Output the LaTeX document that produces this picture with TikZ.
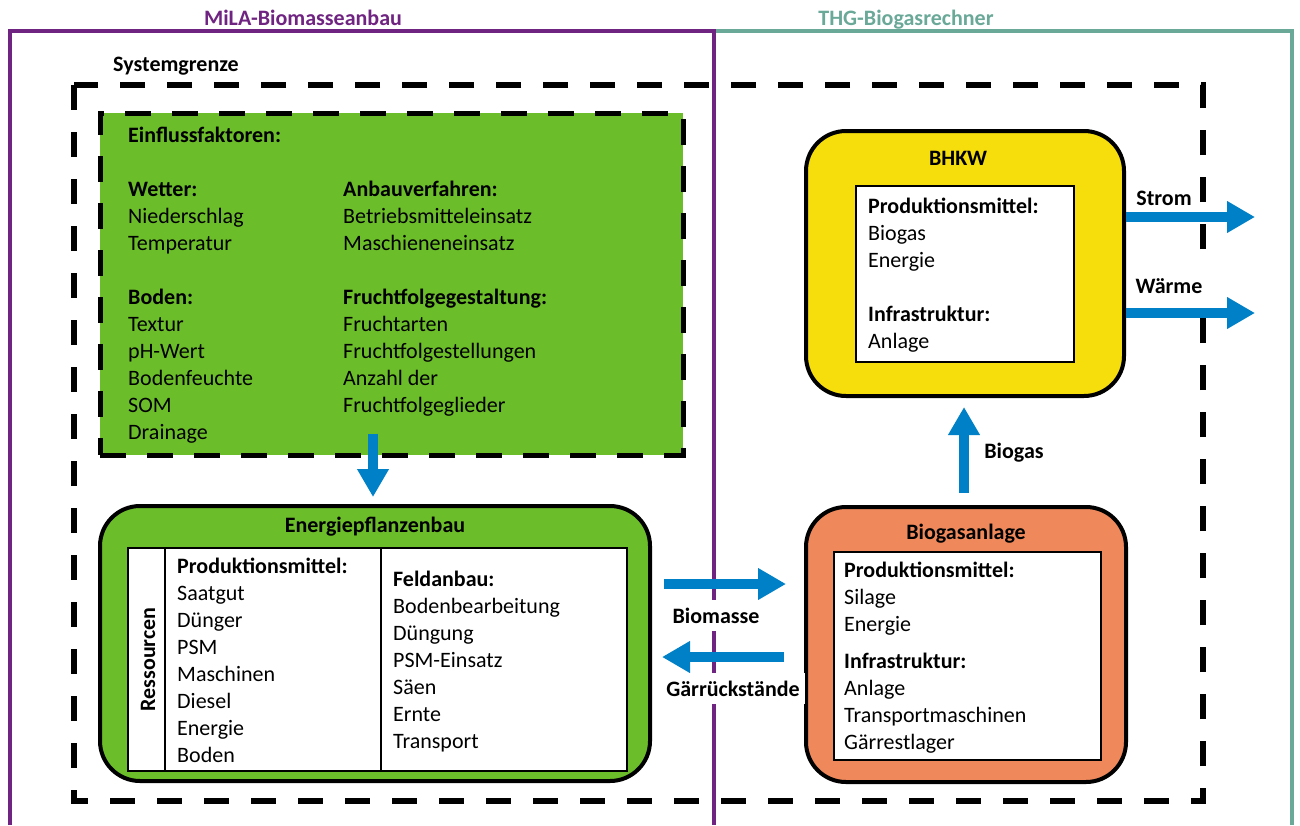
\documentclass[tikz,border=0pt]{standalone}
\usepackage{fontspec}
\setmainfont{Carlito}
\usetikzlibrary{positioning,arrows.meta,calc}
\definecolor{milapurple}{RGB}{112,36,130}
\definecolor{thgteal}{RGB}{106,168,152}
\definecolor{fieldgreen}{RGB}{108,189,42}
\definecolor{bgaorange}{RGB}{239,137,92}
\definecolor{bhkwyellow}{RGB}{246,222,12}
\definecolor{flowblue}{RGB}{0,128,198}
\tikzset{
    mila frame/.style={draw=milapurple, line width=4pt},
    thg frame/.style={draw=thgteal, line width=4pt},
    frame label/.style={font=\fontsize{22}{27}\selectfont\bfseries, anchor=base, inner sep=0pt},
    system border/.style={draw=black, line width=6pt, dash pattern=on 25pt off 22pt},
    factor box/.style={rectangle, draw=black, fill=fieldgreen, line width=5pt, dash pattern=on 26pt off 21pt},
    unit box/.style={rectangle, draw=black, line width=4pt, rounded corners=40pt},
    inner box/.style={rectangle, draw=black, fill=white, line width=2.5pt},
    divider/.style={draw=black, line width=2.5pt},
    unit title/.style={font=\fontsize{22}{27}\selectfont\bfseries, anchor=base, inner sep=0pt},
    item list/.style={font=\fontsize{22}{27}\selectfont, anchor=base west, align=left, inner sep=0pt},
    flow arrow/.style={-{Triangle[width=30pt,length=28pt]}, line width=10pt, flowblue},
    flow label/.style={font=\fontsize{22}{27}\selectfont\bfseries, anchor=base, fill=white, inner xsep=5pt, inner ysep=8pt}
}

\begin{document}
\begin{tikzpicture}[x=1pt, y=-1pt]
    \useasboundingbox (0,0) rectangle (1300,825);

    % Model frames
    \draw[thg frame] (714,31) -- (1292,31) -- (1292,825);
    \draw[mila frame] (10,825) -- (10,31) -- (714,31) -- (714,825);
    \node[frame label, text=milapurple] (mila-label) at (303,25) {MiLA-Biomasseanbau};
    \node[frame label, text=thgteal] (thg-label) at (906,25) {THG-Biogasrechner};

    % System boundary
    \draw[system border] (74,85) rectangle (1203,801);
    \node[frame label] (system-label) at (176,71) {Systemgrenze};

    % Influencing factors (lists sit on the baseline of their last line)
    \node[factor box, minimum width=583pt, minimum height=342pt] (einfluss) at (391.5,284) {};
    \node[item list] (einfluss-left) at (128,439) {\textbf{Einflussfaktoren:}\\[27pt]\textbf{Wetter:}\\Niederschlag\\Temperatur\\[27pt]\textbf{Boden:}\\Textur\\pH-Wert\\Bodenfeuchte\\SOM\\Drainage};
    \node[item list] (einfluss-right) at (343,412) {\textbf{Anbauverfahren:}\\Betriebsmitteleinsatz\\Maschieneneinsatz\\[27pt]\textbf{Fruchtfolgegestaltung:}\\Fruchtarten\\Fruchtfolgestellungen\\Anzahl der\\Fruchtfolgeglieder};

    % Energy crop cultivation
    \node[unit box, fill=fieldgreen, minimum width=550pt, minimum height=275pt] (epb) at (375,643.5) {};
    \node[unit title] (epb-title) at (375,532) {Energiepflanzenbau};
    \node[inner box, minimum width=499pt, minimum height=223pt] (epb-table) at (377.5,659.5) {};
    \draw[divider] (165,548) -- (165,771);
    \draw[divider] (381,548) -- (381,771);
    \node[unit title, anchor=center, rotate=90] (ressourcen) at (148,659.5) {Ressourcen};
    \node[item list] (epb-mittel) at (177,762) {\textbf{Produktionsmittel:}\\Saatgut\\Dünger\\PSM\\Maschinen\\Diesel\\Energie\\Boden};
    \node[item list] (epb-feld) at (393,748) {\textbf{Feldanbau:}\\Bodenbearbeitung\\Düngung\\PSM-Einsatz\\Säen\\Ernte\\Transport};

    % Biogas plant
    \node[unit box, fill=bgaorange, minimum width=320pt, minimum height=275pt] (bga) at (966,644.5) {};
    \node[unit title] (bga-title) at (966,539) {Biogasanlage};
    \node[inner box, minimum width=267pt, minimum height=208pt] (bga-inner) at (967.5,656) {};
    \node[item list] (bga-list) at (844,749) {\textbf{Produktionsmittel:}\\Silage\\Energie\\[10pt]\textbf{Infrastruktur:}\\Anlage\\Transportmaschinen\\Gärrestlager};

    % CHP unit
    \node[unit box, fill=bhkwyellow, minimum width=318pt, minimum height=265pt] (bhkw) at (965,263.5) {};
    \node[unit title] (bhkw-title) at (958,165) {BHKW};
    \node[inner box, minimum width=218pt, minimum height=176pt] (bhkw-inner) at (965,274) {};
    \node[item list] (bhkw-list) at (868,348) {\textbf{Produktionsmittel:}\\Biogas\\Energie\\[27pt]\textbf{Infrastruktur:}\\Anlage};

    % Flow labels
    \node[flow label] (biomasse-label) at (716,623) {Biomasse};
    \node[flow label] (gaerrest-label) at (733,696) {Gärrückstände};
    \node[flow label] (biogas-label) at (1014,458) {Biogas};
    \node[flow label] (strom-label) at (1164,205) {Strom};
    \node[flow label] (waerme-label) at (1169,293) {Wärme};

    % Flows
    \coordinate (strom-end) at (1255,217);
    \coordinate (waerme-end) at (1255,313);
    \draw[flow arrow, shorten <=-24pt, shorten >=7pt] ([xshift=-2pt]epb.north |- einfluss.south) -- ([xshift=-2pt]epb.north);
    \draw[flow arrow, shorten <=12pt, shorten >=18pt] ([yshift=59.5pt]epb.east) -- ([yshift=59.5pt]epb.east -| bga.west);
    \draw[flow arrow, shorten <=20pt, shorten >=10pt] ([yshift=-13.5pt]epb.east -| bga.west) -- ([yshift=-13.5pt]epb.east);
    \draw[flow arrow, shorten <=12pt, shorten >=9pt] ([xshift=-2pt]bga.north) -- ([xshift=-2pt]bga.north |- bhkw.south);
    \draw[flow arrow] (bhkw.east |- strom-end) -- (strom-end);
    \draw[flow arrow] (bhkw.east |- waerme-end) -- (waerme-end);
\end{tikzpicture}
\end{document}
